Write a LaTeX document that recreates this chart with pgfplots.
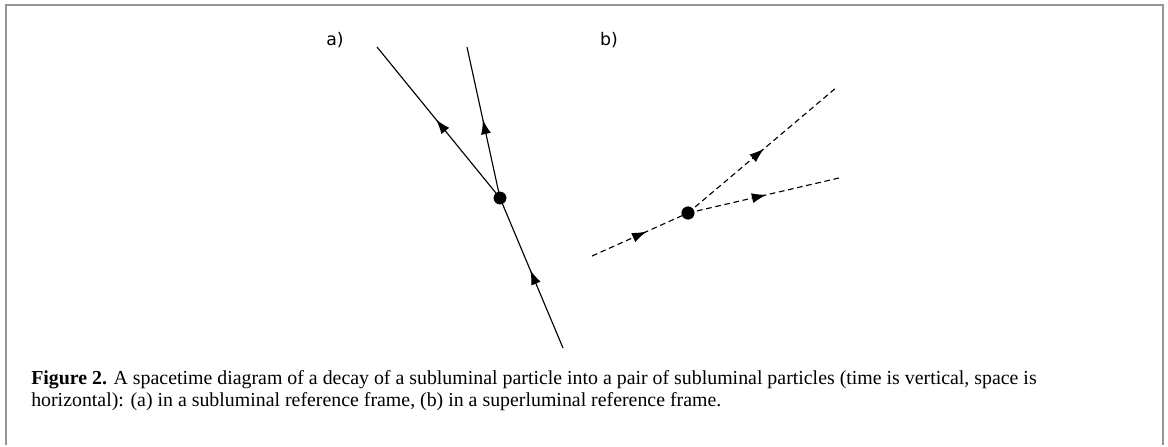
\documentclass[border=0pt]{standalone}
\usepackage{pgfplots}
\pgfplotsset{compat=1.18}
\usepackage{fontspec}
\setmainfont{Liberation Serif}
\newfontfamily\labfont{DejaVu Sans}
\usetikzlibrary{decorations.markings,arrows.meta}
\definecolor{framegray}{RGB}{150,150,150}
\tikzset{
  midarrow/.style={postaction={decorate},
    decoration={markings, mark=at position #1 with {\arrow{Latex[length=11pt,width=7.5pt]}}}},
}
\begin{document}
\begin{tikzpicture}
\begin{axis}[
  width=876pt, height=333.75pt, scale only axis,
  xmin=0, xmax=1168, ymin=0, ymax=445, y dir=reverse,
  hide axis, clip=false,
]
\path (axis cs:0,0) rectangle (axis cs:1168,445);
% frame
\draw[framegray, line width=1.5pt] (axis cs:5.5,445) -- (axis cs:5.5,5) -- (axis cs:1162.5,5) -- (axis cs:1162.5,445);
% panel a
\addplot[black, line width=0.85pt, midarrow=0.52] coordinates {(500,198) (377,47)};
\addplot[black, line width=0.85pt, midarrow=0.52] coordinates {(500,198) (467,47)};
\addplot[black, line width=0.85pt, midarrow=0.52] coordinates {(563,348) (500,198)};
\addplot[black, only marks, mark=*, mark size=4.6pt] coordinates {(500,198)};
% panel b
\addplot[black, line width=0.85pt, dash pattern=on 4.2pt off 2.8pt, midarrow=0.57] coordinates {(592,256) (688,213)};
\addplot[black, line width=0.85pt, dash pattern=on 4.2pt off 2.8pt, midarrow=0.51] coordinates {(688,213) (837,87)};
\addplot[black, line width=0.85pt, dash pattern=on 4.2pt off 2.8pt, midarrow=0.52] coordinates {(688,213) (839,178)};
\addplot[black, only marks, mark=*, mark size=4.7pt] coordinates {(688,213)};
% labels
\node[font=\labfont\fontsize{13pt}{15pt}\selectfont] at (axis cs:335,40) {a)};
\node[font=\labfont\fontsize{13pt}{15pt}\selectfont] at (axis cs:609,40) {b)};
% caption
\node[anchor=base west, inner sep=0pt, font=\fontsize{14.9pt}{17pt}\selectfont] at (axis cs:31,384) {\textbf{Figure 2.} A spacetime diagram of a decay of a subluminal particle into a pair of subluminal particles (time is vertical, space is};
\node[anchor=base west, inner sep=0pt, font=\fontsize{14.9pt}{17pt}\selectfont] at (axis cs:31,406) {horizontal): (a) in a subluminal reference frame, (b) in a superluminal reference frame.};
\end{axis}
\end{tikzpicture}
\end{document}
